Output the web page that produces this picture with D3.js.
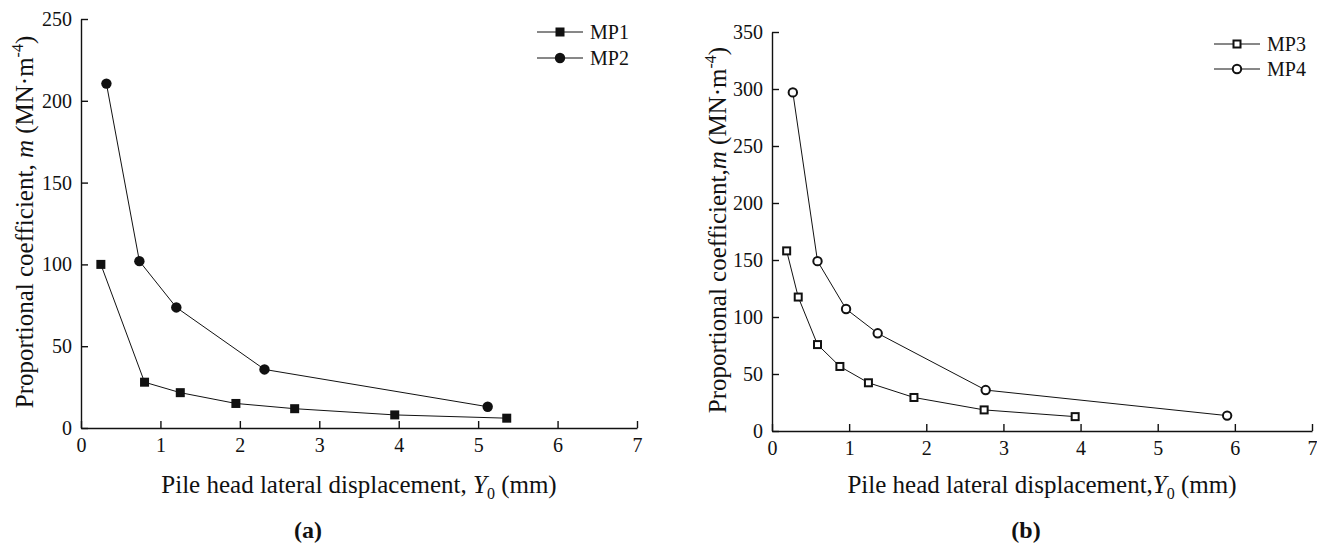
<!DOCTYPE html>
<html>
<head>
<meta charset="utf-8">
<script src="https://cdn.jsdelivr.net/npm/d3@7"></script>
<style>
  body { margin: 0; background: #fff; }
  svg { display: block; font-family: "Liberation Serif", "Times New Roman", serif; }
  .axis path, .axis line { stroke: #111; stroke-width: 1.4; }
  .axis text { font-family: "Liberation Serif", serif; font-size: 20px; fill: #111; }
  .line { fill: none; stroke: #111; stroke-width: 1; }
</style>
</head>
<body>
<svg id="chart" width="1317" height="546"></svg>
<script>
// axis ticks
const xTicks = [0, 1, 2, 3, 4, 5, 6, 7];
const yTicksA = [0, 50, 100, 150, 200, 250];
const yTicksB = [0, 50, 100, 150, 200, 250, 300, 350];

// panel (a)
const mp1X = [0.25, 0.8, 1.25, 1.95, 2.69, 3.95, 5.36];
const mp1Y = [100, 28, 21.6, 15, 11.8, 8, 6];
const mp2X = [0.32, 0.735, 1.2, 2.31, 5.12];
const mp2Y = [210.5, 102, 73.7, 35.8, 13];

// panel (b)
const mp3X = [0.19, 0.34, 0.59, 0.88, 1.25, 1.84, 2.75, 3.93];
const mp3Y = [158, 117.5, 75.8, 56.6, 42.3, 29.4, 18.5, 12.6];
const mp4X = [0.27, 0.59, 0.96, 1.37, 2.77, 5.9];
const mp4Y = [297, 149, 107, 85.7, 35.9, 13.5];

const svg = d3.select('#chart');

function zip(xs, ys) {
  return xs.map((x, i) => ({ x: x, y: ys[i] }));
}

function drawMarker(g, kind, cx, cy) {
  if (kind == 'square') {
    g.append('rect').attr('x', cx - 4.5).attr('y', cy - 4.5)
      .attr('width', 9).attr('height', 9).attr('fill', '#111');
  } else if (kind == 'circle') {
    g.append('circle').attr('cx', cx).attr('cy', cy).attr('r', 5.2).attr('fill', '#111');
  } else if (kind == 'osquare') {
    g.append('rect').attr('x', cx - 3.5).attr('y', cy - 3.5)
      .attr('width', 7).attr('height', 7)
      .attr('fill', '#fff').attr('stroke', '#111').attr('stroke-width', 2);
  } else {
    g.append('circle').attr('cx', cx).attr('cy', cy).attr('r', 4.2)
      .attr('fill', '#fff').attr('stroke', '#111').attr('stroke-width', 2);
  }
}

function panel(opt) {
  const x = d3.scaleLinear().domain([0, 7]).range([opt.left, opt.right]);
  const y = d3.scaleLinear().domain([0, opt.ymax]).range([opt.bottom, opt.top]);
  const g = svg.append('g');

  // axes, ticks pointing inward
  g.append('g').attr('class', 'axis')
    .attr('transform', 'translate(0,' + opt.bottom + ')')
    .call(d3.axisBottom(x).tickValues(xTicks).tickSize(-7).tickSizeOuter(0).tickPadding(10)
      .tickFormat(d3.format('d')));

  g.append('g').attr('class', 'axis')
    .attr('transform', 'translate(' + opt.left + ',0)')
    .call(d3.axisLeft(y).tickValues(opt.yTicks).tickSize(-7).tickSizeOuter(0).tickPadding(9)
      .tickFormat(d3.format('d')));

  const line = d3.line().x(d => x(d.x)).y(d => y(d.y));

  opt.series.forEach(function (s) {
    const pts = zip(s.xs, s.ys);
    g.append('path').datum(pts).attr('class', 'line').attr('d', line);
    pts.forEach(p => drawMarker(g, s.kind, x(p.x), y(p.y)));
  });

  // legend
  opt.series.forEach(function (s, i) {
    const ly = opt.legend.y + i * opt.legend.dy;
    g.append('line').attr('class', 'line')
      .attr('x1', opt.legend.x).attr('x2', opt.legend.x + 46)
      .attr('y1', ly).attr('y2', ly);
    drawMarker(g, s.kind, opt.legend.x + 23, ly);
    g.append('text').attr('x', opt.legend.x + 53).attr('y', ly + 7)
      .attr('font-size', '20px').attr('fill', '#111').text(s.name);
  });

  // x title
  const xt = g.append('text')
    .attr('x', (opt.left + opt.right) / 2).attr('y', 493)
    .attr('text-anchor', 'middle').attr('font-size', '25px').attr('fill', '#111');
  xt.append('tspan').text(opt.xSep);
  xt.append('tspan').attr('font-style', 'italic').text('Y');
  xt.append('tspan').attr('font-size', '16px').attr('dy', 6).text('0');
  xt.append('tspan').attr('dy', -6).text(' (mm)');

  // y title
  const yt = g.append('text')
    .attr('transform', 'translate(' + opt.ytx + ',' + opt.yty + ') rotate(-90)')
    .attr('text-anchor', 'middle').attr('font-size', '25px').attr('fill', '#111');
  yt.append('tspan').text(opt.ySep);
  yt.append('tspan').attr('font-style', 'italic').text('m');
  yt.append('tspan').text(' (MN·m');
  yt.append('tspan').attr('font-size', '16px').attr('dy', -10).text('-4');
  yt.append('tspan').attr('dy', 10).text(')');

  // panel letter
  g.append('text').attr('x', opt.letterX).attr('y', 538)
    .attr('text-anchor', 'middle').attr('font-size', '24px').attr('font-weight', 'bold')
    .attr('fill', '#111').text(opt.letter);
}

panel({
  left: 81, right: 637, top: 19, bottom: 428, ymax: 250, yTicks: yTicksA,
  series: [
    { name: 'MP1', kind: 'square', xs: mp1X, ys: mp1Y },
    { name: 'MP2', kind: 'circle', xs: mp2X, ys: mp2Y }
  ],
  legend: { x: 537, y: 32, dy: 26 },
  xSep: 'Pile head lateral displacement, ',
  ySep: 'Proportional coefficient, ',
  ytx: 33, yty: 222,
  letter: '(a)', letterX: 308
});

panel({
  left: 772, right: 1312, top: 32, bottom: 431, ymax: 350, yTicks: yTicksB,
  series: [
    { name: 'MP3', kind: 'osquare', xs: mp3X, ys: mp3Y },
    { name: 'MP4', kind: 'ocircle', xs: mp4X, ys: mp4Y }
  ],
  legend: { x: 1214, y: 44, dy: 25 },
  xSep: 'Pile head lateral displacement,',
  ySep: 'Proportional coefficient,',
  ytx: 726, yty: 230,
  letter: '(b)', letterX: 1026
});
</script>
</body>
</html>
